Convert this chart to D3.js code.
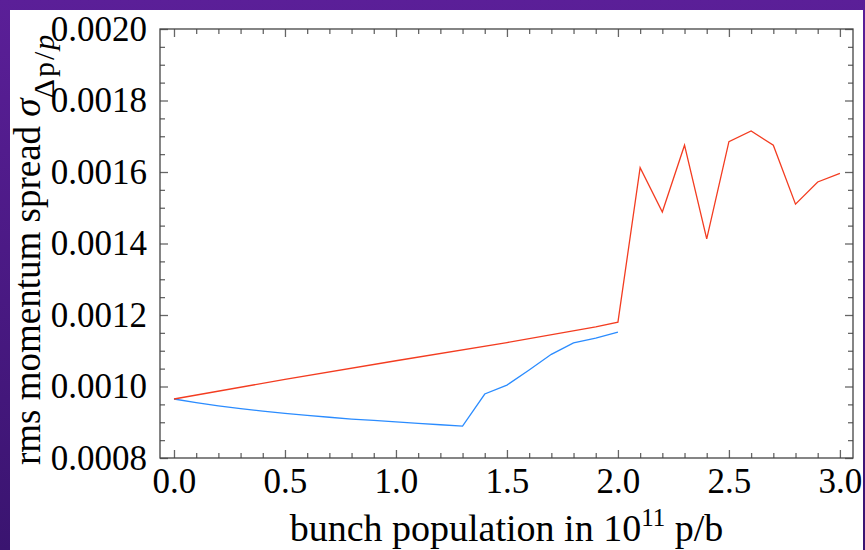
<!DOCTYPE html>
<html>
<head>
<meta charset="utf-8">
<script src="https://cdn.jsdelivr.net/npm/d3@7"></script>
<style>
  body { margin: 0; }
  svg { display: block; }
  text { font-family: "Liberation Serif", "Times New Roman", serif; fill: #000; }
</style>
</head>
<body>
<div id="chart"></div>
<script>
// series
const redX = [0.0, 0.5, 1.0, 1.5, 1.9, 2.0, 2.1, 2.2, 2.3, 2.4, 2.5, 2.6, 2.7, 2.8, 2.9, 3.0];
const redY = [0.000965, 0.001020, 0.001072, 0.001123, 0.001167, 0.001180, 0.001612, 0.001488, 0.001675,
  0.001413, 0.001685, 0.001715, 0.001675, 0.001510, 0.001572, 0.001596];

const blueX = [0.0, 0.1, 0.2, 0.3, 0.4, 0.5, 0.6, 0.7, 0.8, 0.9, 1.0, 1.1, 1.2, 1.3, 1.4, 1.5, 1.6, 1.7, 1.8, 1.9, 2.0];
const blueY = [0.000965, 0.000955, 0.000946, 0.000938, 0.000931, 0.000925, 0.000919, 0.000914, 0.000909,
  0.000905, 0.000901, 0.000897, 0.000893, 0.000889, 0.000979, 0.001004, 0.001046, 0.001090, 0.001122,
  0.001135, 0.001152];

const xTicks = [0, 0.5, 1.0, 1.5, 2.0, 2.5, 3.0];
const yTicks = [0.0008, 0.0010, 0.0012, 0.0014, 0.0016, 0.0018, 0.0020];

const width = 865;
const height = 550;
const frame = { left: 160, right: 853, top: 29, bottom: 458 };

const svg = d3.select("#chart").append("svg")
  .attr("width", width)
  .attr("height", height);

// slide background
const grad = svg.append("defs").append("linearGradient")
  .attr("id", "bg")
  .attr("x1", 0).attr("y1", 0).attr("x2", 0).attr("y2", 1);
grad.append("stop").attr("offset", "0%").attr("stop-color", "#5b1f98");
grad.append("stop").attr("offset", "100%").attr("stop-color", "#3a1470");

svg.append("rect")
  .attr("width", width)
  .attr("height", height)
  .style("fill", "url(#bg)");

svg.append("rect")
  .attr("x", 10)
  .attr("y", 10)
  .attr("width", 853)
  .attr("height", height - 10)
  .style("fill", "#fff");

const x = d3.scaleLinear().domain([-0.063, 3.059]).range([frame.left, frame.right]);
const y = d3.scaleLinear().domain([0.0008, 0.0020]).range([frame.bottom, frame.top]);

const minorX = d3.range(0, 31).map((i) => i / 10).filter((v) => Math.round(v * 10) % 5 !== 0);
const minorY = d3.range(16, 41).map((i) => i / 20000).filter((v, i) => (i % 4) !== 0);

const tickColor = "#666";

// major + minor ticks, all pointing inward
const addAxis = (axis, tx, ty, labels) => {
  const g = svg.append("g")
    .attr("transform", `translate(${tx},${ty})`)
    .call(axis);
  g.select(".domain").remove();
  g.selectAll("line").style("stroke", tickColor).style("stroke-width", 1.3);
  g.selectAll("text")
    .style("font-size", "35px")
    .style("font-family", "Liberation Serif")
    .style("fill", "#000");
  if (!labels) g.selectAll("text").remove();
  return g;
};

addAxis(d3.axisBottom(x).tickValues(xTicks).tickFormat(d3.format(".1f")).tickSize(-8).tickSizeOuter(0).tickPadding(10), 0, frame.bottom, true);
addAxis(d3.axisBottom(x).tickValues(minorX).tickFormat("").tickSize(-5).tickSizeOuter(0), 0, frame.bottom, false);
addAxis(d3.axisTop(x).tickValues(xTicks).tickFormat("").tickSize(-8).tickSizeOuter(0), 0, frame.top, false);
addAxis(d3.axisTop(x).tickValues(minorX).tickFormat("").tickSize(-5).tickSizeOuter(0), 0, frame.top, false);

addAxis(d3.axisLeft(y).tickValues(yTicks).tickFormat(d3.format(".4f")).tickSize(-8).tickSizeOuter(0).tickPadding(13), frame.left, 0, true);
addAxis(d3.axisLeft(y).tickValues(minorY).tickFormat("").tickSize(-5).tickSizeOuter(0), frame.left, 0, false);
addAxis(d3.axisRight(y).tickValues(yTicks).tickFormat("").tickSize(-8).tickSizeOuter(0), frame.right, 0, false);
addAxis(d3.axisRight(y).tickValues(minorY).tickFormat("").tickSize(-5).tickSizeOuter(0), frame.right, 0, false);

// frame
svg.append("rect")
  .attr("x", frame.left)
  .attr("y", frame.top)
  .attr("width", frame.right - frame.left)
  .attr("height", frame.bottom - frame.top)
  .style("fill", "none")
  .style("stroke", "#444")
  .style("stroke-width", 1.3);

const line = d3.line()
  .x((d) => x(d[0]))
  .y((d) => y(d[1]));

svg.append("path")
  .datum(blueX.map((v, i) => [v, blueY[i]]))
  .attr("d", line)
  .style("fill", "none")
  .style("stroke", "#2b8cff")
  .style("stroke-width", 1.3);

svg.append("path")
  .datum(redX.map((v, i) => [v, redY[i]]))
  .attr("d", line)
  .style("fill", "none")
  .style("stroke", "#f33c20")
  .style("stroke-width", 1.3);

// axis titles
const xt = svg.append("text")
  .attr("x", (frame.left + frame.right) / 2)
  .attr("y", 541)
  .attr("text-anchor", "middle")
  .style("font-size", "38px");
xt.append("tspan").text("bunch population in 10");
xt.append("tspan").attr("dy", -15).style("font-size", "25px").text("11");
xt.append("tspan").attr("dy", 15).text(" p/b");

const yt = svg.append("text")
  .attr("transform", "translate(40,465) rotate(-90)")
  .attr("text-anchor", "start")
  .style("font-size", "37px");
yt.append("tspan").text("rms momentum spread ");
yt.append("tspan").style("font-style", "italic").text("σ");
yt.append("tspan").attr("dy", 14).style("font-size", "30px").style("letter-spacing", "2px").text("Δp/");
yt.append("tspan").style("font-size", "30px").style("font-style", "italic").text("p");
</script>
</body>
</html>
